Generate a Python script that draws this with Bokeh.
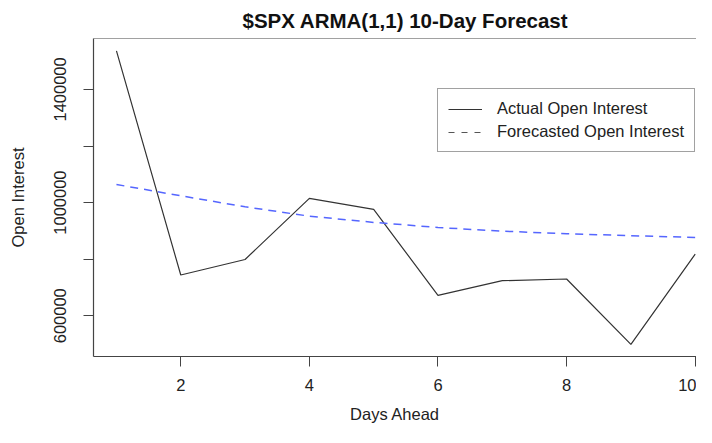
from bokeh.plotting import figure
from bokeh.models import (ColumnDataSource, FixedTicker, Legend, LegendItem, Range1d, Span)
from bokeh.embed import file_html
from bokeh.resources import INLINE

# ---- data ----
DAYS = [1, 2, 3, 4, 5, 6, 7, 8, 9, 10]
ACTUAL = [1536000, 744000, 799000, 1015000, 976000, 672000, 724000, 730000, 499000, 818000]
FORECAST = [1064000, 1024000, 985000, 952000, 930000, 912000, 899000, 890000, 883000, 877000]

X_TICKS = [2, 4, 6, 8, 10]
Y_TICKS = [600000, 800000, 1000000, 1200000, 1400000]
Y_TICK_LABELS = ["600000", "", "1000000", "", "1400000"]

TITLE = "$SPX ARMA(1,1) 10-Day Forecast"
X_LABEL = "Days Ahead"
Y_LABEL = "Open Interest"
LEGEND_LABELS = ["Actual Open Interest", "Forecasted Open Interest"]

X_LIMITS = (0.643, 10.02)
Y_LIMITS = (456000, 1580000)

FONT = "Liberation Sans"
NAN = float("nan")

p = figure(width=696, height=427, output_backend="svg", toolbar_location=None,
           x_range=Range1d(*X_LIMITS), y_range=Range1d(*Y_LIMITS),
           min_border_left=93, min_border_right=0, min_border_top=38, min_border_bottom=71)
p.outline_line_color = None
p.xgrid.visible = False
p.ygrid.visible = False
p.background_fill_color = "white"
p.border_fill_color = "white"

src = ColumnDataSource(dict(x=DAYS, actual=ACTUAL, forecast=FORECAST))
r_act = p.line("x", "actual", source=src, line_color="#333333", line_width=1.2)
r_fc = p.line("x", "forecast", source=src, line_color="#5566ff", line_width=1.5, line_dash="8 6")
# legend-only proxy (the reference legend shows a grey dashed sample)
proxy = p.line(x=[NAN], y=[NAN], line_color="#555555", line_width=1.2, line_dash="6 7")

# top border of the box (its right edge lies outside the picture)
p.add_layout(Span(location=Y_LIMITS[1], dimension="width", line_color="#444444", line_width=1.2))

for ax in (p.xaxis[0], p.yaxis[0]):
    ax.axis_line_color = "#444444"
    ax.axis_line_width = 1.2
    ax.major_tick_line_color = "#444444"
    ax.major_tick_out = 10
    ax.major_tick_in = 0
    ax.minor_tick_line_color = None
    ax.major_label_text_font = FONT
    ax.major_label_text_font_size = "16.5px"
    ax.major_label_text_color = "#222222"
    ax.axis_label_text_font = FONT
    ax.axis_label_text_font_size = "16.5px"
    ax.axis_label_text_font_style = "normal"
    ax.axis_label_text_color = "#222222"

p.xaxis.ticker = FixedTicker(ticks=X_TICKS)
p.xaxis.major_label_standoff = 12
p.xaxis.axis_label = X_LABEL
p.xaxis.axis_label_standoff = 11

p.yaxis.ticker = FixedTicker(ticks=Y_TICKS)
p.yaxis.major_label_overrides = {t: l for t, l in zip(Y_TICKS, Y_TICK_LABELS)}
p.yaxis.major_label_orientation = "vertical"
p.yaxis.major_label_standoff = 17
p.yaxis.axis_label = Y_LABEL
p.yaxis.axis_label_standoff = 25

p.title.text = TITLE
p.title.text_font = FONT
p.title.text_font_size = "20.5px"
p.title.text_font_style = "bold"
p.title.text_color = "#111111"
p.title.align = "left"
p.title.offset = 149
p.title.standoff = 13

legend = Legend(items=[LegendItem(label=LEGEND_LABELS[0], renderers=[r_act]),
                       LegendItem(label=LEGEND_LABELS[1], renderers=[proxy])],
                location=(344, 204), margin=0, padding=10, spacing=4,
                glyph_width=34, glyph_height=18, label_height=18, label_standoff=15,
                label_text_font=FONT, label_text_font_size="16.5px", label_text_color="#222222",
                border_line_color="#444444", border_line_width=1,
                background_fill_color="white", background_fill_alpha=1.0)
p.add_layout(legend)

open("out.html", "w").write(file_html(p, INLINE))
